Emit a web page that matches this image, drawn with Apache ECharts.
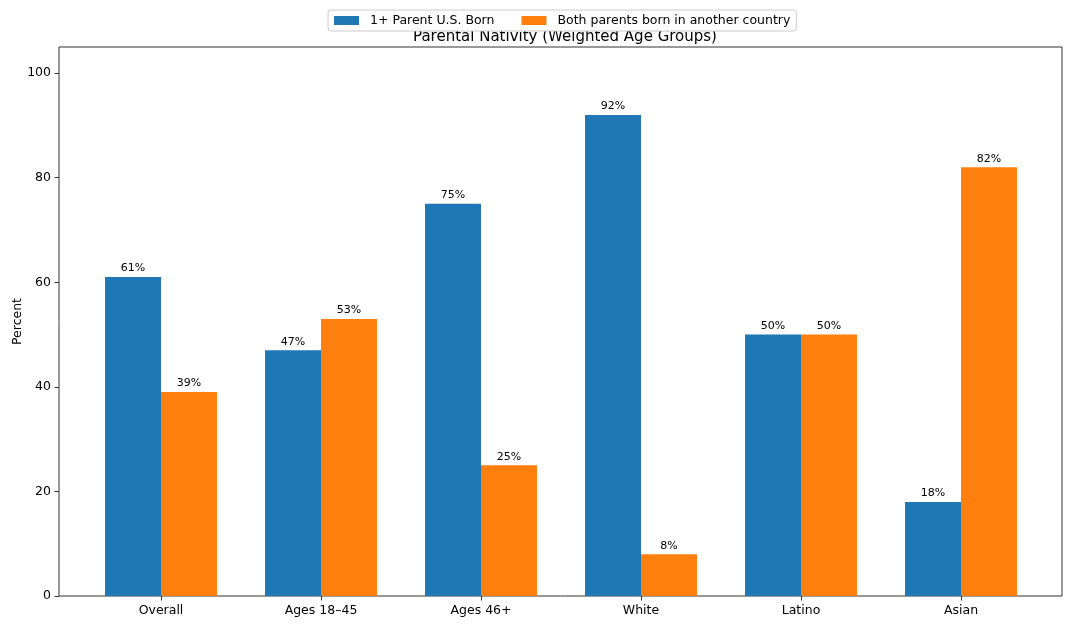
<!DOCTYPE html>
<html>
<head>
<meta charset="utf-8">
<script src="https://cdn.jsdelivr.net/npm/echarts@6/dist/echarts.min.js"></script>
<style>html,body{margin:0;padding:0;background:#fff;}#c{width:1071px;height:627px;}</style>
</head>
<body>
<div id="c"></div>
<script>
const categories = ['Overall', 'Ages 18–45', 'Ages 46+', 'White', 'Latino', 'Asian'];
const usBorn = [61, 47, 75, 92, 50, 18];
const foreignBorn = [39, 53, 25, 8, 50, 82];
const seriesNames = ['1+ Parent U.S. Born', 'Both parents born in another country'];
const yTicks = [0, 20, 40, 60, 80, 100];

const chart = echarts.init(document.getElementById('c'), null, {renderer: 'canvas'});
const font = 'DejaVu Sans';
const labelCfg = {show: true, position: 'top', distance: 3, formatter: p => p.value + '%', fontFamily: font, fontSize: 11, color: '#000'};
chart.setOption({
  animation: false,
  textStyle: {fontFamily: font},
  title: {text: 'Parental Nativity (Weighted Age Groups)', left: 560, textAlign: 'center', top: 25,
    textStyle: {fontFamily: font, fontSize: 15, fontWeight: 'normal', color: '#000'}},
  legend: {top: 10, left: 328, data: seriesNames, icon: 'rect', itemWidth: 25, itemHeight: 9, itemGap: 27,
    padding: [4, 6, 4, 6], borderColor: '#ccc', borderWidth: 1, borderRadius: 3, backgroundColor: '#fff',
    textStyle: {fontFamily: font, fontSize: 12.5, color: '#000', padding: [0, 0, 0, 6]}, z: 10},
  grid: [
    {left: 59, right: 9, top: 47, bottom: 31, show: true, borderColor: '#333', borderWidth: 1, backgroundColor: 'transparent',
      containLabel: false, outerBoundsMode: 'none'},
    {left: 81, right: 30, top: 47, bottom: 31, containLabel: false, outerBoundsMode: 'none'}
  ],
  xAxis: [
    {gridIndex: 0, type: 'value', min: 0, max: 1, show: false},
    {gridIndex: 1, type: 'category', data: categories,
      axisLine: {show: false},
      axisTick: {show: true, alignWithLabel: true, length: 4.5, lineStyle: {color: '#333'}},
      axisLabel: {fontFamily: font, fontSize: 12.5, color: '#000', margin: 8}}
  ],
  yAxis: [
    {gridIndex: 0, type: 'value', min: 0, max: 105, interval: 20,
      name: 'Percent', nameLocation: 'middle', nameGap: 35, nameRotate: 90, nameMoveOverlap: false,
      nameTextStyle: {fontFamily: font, fontSize: 12.5, color: '#000'},
      axisLine: {show: false}, splitLine: {show: false},
      axisTick: {show: true, length: 4.5, lineStyle: {color: '#333'}},
      axisLabel: {fontFamily: font, fontSize: 12.5, color: '#000', margin: 8, showMaxLabel: false,
        formatter: v => yTicks.indexOf(v) >= 0 ? String(v) : ''}},
    {gridIndex: 1, type: 'value', min: 0, max: 105, show: false}
  ],
  series: [
    {name: seriesNames[0], type: 'bar', xAxisIndex: 1, yAxisIndex: 1, data: usBorn, barWidth: 56, barGap: '0%',
      itemStyle: {color: '#1f77b4'}, label: labelCfg},
    {name: seriesNames[1], type: 'bar', xAxisIndex: 1, yAxisIndex: 1, data: foreignBorn, barWidth: 56, barGap: '0%',
      itemStyle: {color: '#ff7f0e'}, label: labelCfg}
  ]
});
</script>
</body>
</html>
